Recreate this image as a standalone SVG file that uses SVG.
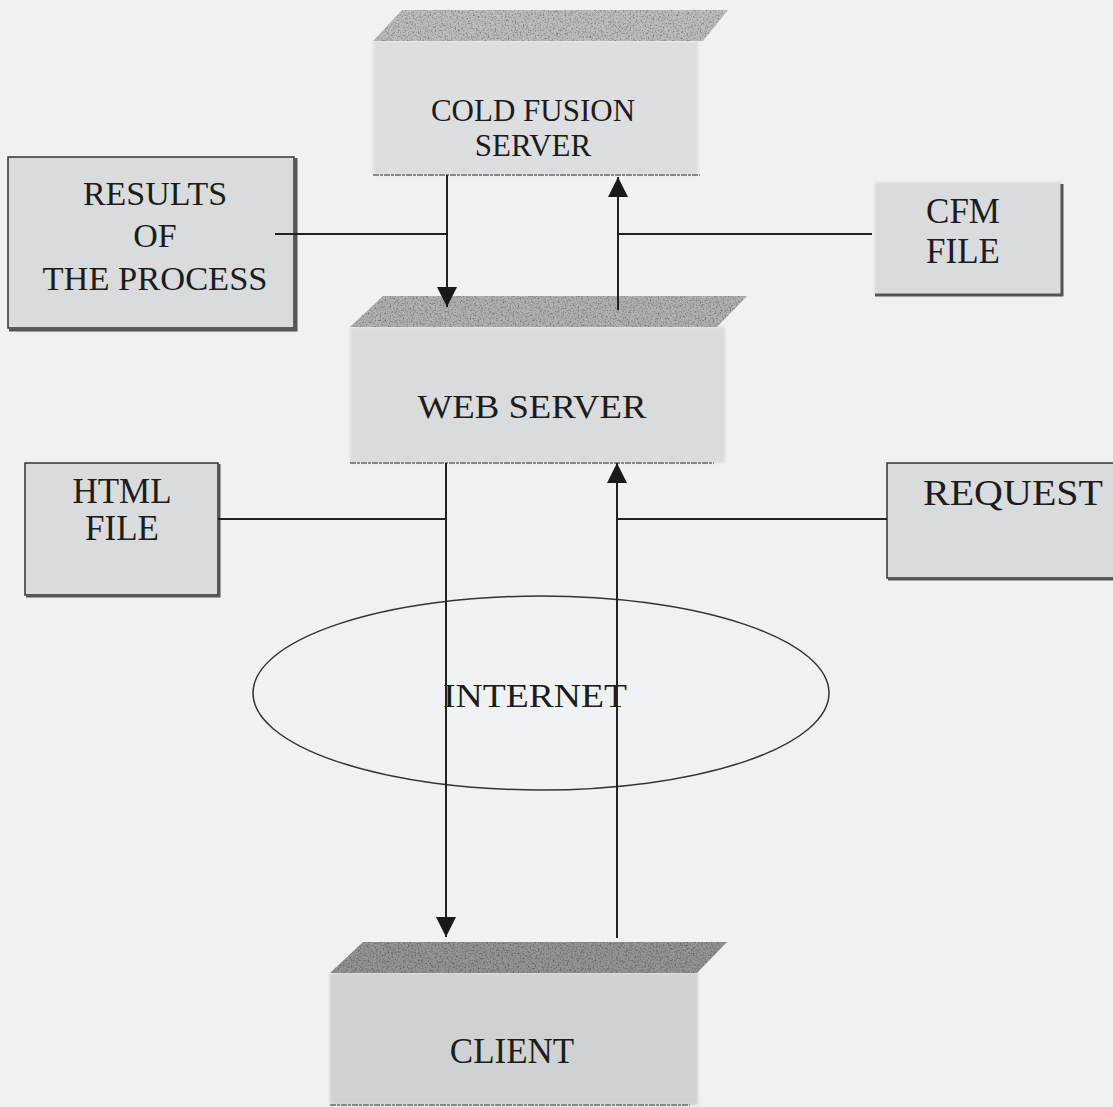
<svg xmlns="http://www.w3.org/2000/svg" width="1113" height="1107" viewBox="0 0 1113 1107">
<style>
  .lbl { font-family: "Liberation Serif", "Times New Roman", serif; fill: #1c1c1c; text-anchor: middle; }
  .conn { stroke: #222; stroke-width: 2; fill: none; }
  .box { fill: #d9dbdc; stroke: #333; stroke-width: 1.5; }
  .shadow { stroke: #555; stroke-width: 3; fill: none; }
  .edge { stroke: #6a6a6a; stroke-width: 1.5; fill: none; stroke-dasharray: 6 1 3 1; }
</style>
<defs>
  <marker id="arrow" markerUnits="userSpaceOnUse" markerWidth="20" markerHeight="20" refX="20" refY="10" orient="auto">
    <path d="M0,0 L20,10 L0,20 z" fill="#1a1a1a"/>
  </marker>
  <filter id="grain" x="0" y="0" width="100%" height="100%">
    <feTurbulence type="fractalNoise" baseFrequency="0.6" numOctaves="2" seed="4" result="n"/>
    <feColorMatrix in="n" type="matrix" values="0 0 0 0 0  0 0 0 0 0  0 0 0 0 0  1.6 0 0 0 -0.72" result="a"/>
    <feComposite in="a" in2="SourceGraphic" operator="in" result="speck"/>
    <feMerge><feMergeNode in="SourceGraphic"/><feMergeNode in="speck"/></feMerge>
  </filter>
  <filter id="soft" x="-5%" y="-5%" width="110%" height="110%">
    <feGaussianBlur stdDeviation="1.5"/>
  </filter>
</defs>
<rect x="0" y="0" width="1113" height="1107" fill="#eef2f3"/>

<g id="cold-fusion-server">
  <rect x="373" y="41" width="325" height="134" fill="#dcdedf" filter="url(#soft)"/>
  <polygon points="402,10 728,10 703,41 373,41" fill="#bcbdbd" filter="url(#grain)"/>
  <line class="edge" x1="373" y1="175" x2="700" y2="175"/>
  <text class="lbl" x="533" y="121" font-size="31">COLD FUSION</text>
  <text class="lbl" x="533" y="156" font-size="31">SERVER</text>
</g>

<g id="results">
  <rect class="box" x="8" y="157" width="286" height="171"/>
  <polyline class="shadow" points="296,158 296,330 9,330"/>
  <text class="lbl" x="155" y="205" font-size="34">RESULTS</text>
  <text class="lbl" x="155" y="247" font-size="34">OF</text>
  <text class="lbl" x="155" y="290" font-size="34" textLength="225" lengthAdjust="spacingAndGlyphs">THE PROCESS</text>
</g>

<g id="cfm-file">
  <rect x="875" y="182" width="187" height="113" fill="#d9dbdc" filter="url(#soft)"/>
  <polyline class="shadow" points="1062,184 1062,295 875,295"/>
  <text class="lbl" x="963" y="223" font-size="35">CFM</text>
  <text class="lbl" x="963" y="263" font-size="35">FILE</text>
</g>

<g id="web-server">
  <rect x="350" y="327" width="375" height="136" fill="#d9dbdc" filter="url(#soft)"/>
  <polygon points="383,296 747,296 717,327 350,327" fill="#b0b1b1" filter="url(#grain)"/>
  <line class="edge" x1="350" y1="463" x2="714" y2="463"/>
  <text class="lbl" x="532" y="418" font-size="34" textLength="229" lengthAdjust="spacingAndGlyphs">WEB SERVER</text>
</g>

<g id="html-file">
  <rect class="box" x="25" y="463" width="193" height="132"/>
  <polyline class="shadow" points="219,464 219,596 26,596"/>
  <text class="lbl" x="122" y="503" font-size="35">HTML</text>
  <text class="lbl" x="122" y="540" font-size="35">FILE</text>
</g>

<g id="request">
  <rect class="box" x="887" y="463" width="230" height="115"/>
  <line class="shadow" x1="888" y1="579" x2="1113" y2="579"/>
  <text class="lbl" x="1013" y="505" font-size="35" textLength="180" lengthAdjust="spacingAndGlyphs">REQUEST</text>
</g>

<g id="internet">
  <ellipse cx="541" cy="693" rx="288" ry="97" fill="none" stroke="#333" stroke-width="1.5"/>
  <text class="lbl" x="535" y="707" font-size="34" textLength="184" lengthAdjust="spacingAndGlyphs">INTERNET</text>
</g>

<g id="client">
  <rect x="330" y="973" width="368" height="132" fill="#cfd1d2" filter="url(#soft)"/>
  <polygon points="363,942 727,942 697,973 330,973" fill="#939494" filter="url(#grain)"/>
  <line class="edge" x1="330" y1="1105" x2="690" y2="1105" stroke="#999"/>
  <text class="lbl" x="512" y="1063" font-size="35">CLIENT</text>
</g>

<g id="connectors">
  <line class="conn" x1="447" y1="175" x2="447" y2="307" marker-end="url(#arrow)"/>
  <line class="conn" x1="618" y1="310" x2="618" y2="177" marker-end="url(#arrow)"/>
  <line class="conn" x1="275" y1="234" x2="447" y2="234"/>
  <line class="conn" x1="618" y1="234" x2="872" y2="234"/>
  <line class="conn" x1="446" y1="463" x2="446" y2="937" marker-end="url(#arrow)"/>
  <line class="conn" x1="617" y1="938" x2="617" y2="463" marker-end="url(#arrow)"/>
  <line class="conn" x1="218" y1="519" x2="446" y2="519"/>
  <line class="conn" x1="617" y1="519" x2="887" y2="519"/>
</g>
</svg>
